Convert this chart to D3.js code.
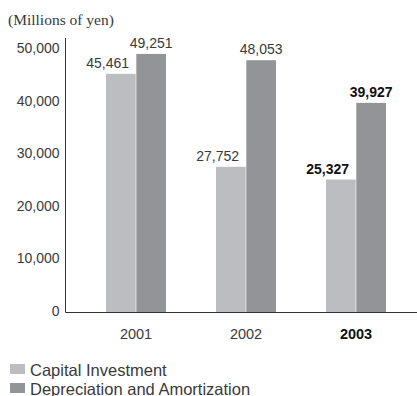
<!DOCTYPE html>
<html>
<head>
<meta charset="utf-8">
<script src="https://cdn.jsdelivr.net/npm/d3@7"></script>
<style>
  html, body { margin: 0; padding: 0; background: #fff; }
  svg { display: block; }
</style>
</head>
<body>
<svg id="chart" width="417" height="396"></svg>
<script>
// Fiscal years and the two series (millions of yen)
const years = ["2001", "2002", "2003"];
const capitalInvestment = [45461, 27752, 25327];
const depreciation = [49251, 48053, 39927];
const seriesNames = ["Capital Investment", "Depreciation and Amortization"];
const yTicks = [0, 10000, 20000, 30000, 40000, 50000];
const highlightYear = "2003";

const colors = ["#bcbdc1", "#939498"];
const textColor = "#3a3a3a";
const sansFont = "'Liberation Sans', Arial, sans-serif";

const svg = d3.select("#chart");

const y = d3.scaleLinear().domain([0, 50000]).range([312.5, 50]);
const x = d3.scaleBand().domain(years).range([81, 411]).paddingInner(50 / 110).paddingOuter(25 / 110);
const sub = d3.scaleBand().domain([0, 1]).range([0, x.bandwidth()]).paddingInner(0.02);

// Unit caption
svg.append("text")
  .attr("x", 8).attr("y", 25)
  .attr("font-family", "'Liberation Serif', 'Times New Roman', serif")
  .attr("font-size", 15.5)
  .attr("fill", textColor)
  .text("(Millions of yen)");

// Bars
const groups = svg.selectAll("g.year")
  .data(years.map((yr, i) => ({ yr, vals: [capitalInvestment[i], depreciation[i]] })))
  .join("g")
  .attr("class", "year")
  .attr("transform", d => `translate(${x(d.yr)},0)`);

groups.selectAll("rect")
  .data(d => d.vals.map((v, k) => ({ v, k })))
  .join("rect")
  .attr("x", d => sub(d.k))
  .attr("width", sub.bandwidth())
  .attr("y", d => y(d.v))
  .attr("height", d => y(0) - y(d.v))
  .attr("fill", d => colors[d.k]);

// Value labels: the shorter bar's label sits to the left so it clears its neighbour
groups.each(function(d) {
  const bold = d.yr === highlightYear;
  d3.select(this).selectAll("text.val")
    .data(d.vals.map((v, k) => ({ v, k })))
    .join("text")
    .attr("class", "val")
    .attr("x", e => e.k === 0 ? sub(e.k) + 23 : sub(e.k) + sub.bandwidth() / 2)
    .attr("y", e => y(e.v) - 6)
    .attr("text-anchor", e => e.k === 0 ? "end" : "middle")
    .attr("font-family", sansFont)
    .attr("font-size", 14)
    .attr("font-weight", bold ? "bold" : "normal")
    .attr("fill", bold ? "#111" : textColor)
    .text(e => d3.format(",")(e.v));
});

// Y axis
const yAxis = svg.append("g")
  .attr("transform", "translate(65.5,0)")
  .call(d3.axisLeft(y).tickValues(yTicks).tickSize(0).tickPadding(6).tickFormat(d3.format(",")));
yAxis.select(".domain").remove();
yAxis.append("line")
  .attr("x1", 0).attr("x2", 0)
  .attr("y1", 38).attr("y2", y(0))
  .attr("stroke", "#333").attr("stroke-width", 1);
yAxis.selectAll("text")
  .attr("dy", "0.2em")
  .attr("font-family", sansFont)
  .attr("font-size", 14)
  .attr("fill", textColor);

// X axis
const xAxis = svg.append("g")
  .attr("transform", `translate(0,${y(0)})`)
  .call(d3.axisBottom(x).tickSize(0).tickPadding(16));
xAxis.select(".domain").remove();
xAxis.append("line")
  .attr("x1", 65.5).attr("x2", 417)
  .attr("y1", 0).attr("y2", 0)
  .attr("stroke", "#333").attr("stroke-width", 1);
xAxis.selectAll("text")
  .attr("font-family", sansFont)
  .attr("font-size", 14.5)
  .attr("font-weight", d => d === highlightYear ? "bold" : "normal")
  .attr("fill", d => d === highlightYear ? "#111" : textColor);

// Legend
const legend = svg.append("g").selectAll("g")
  .data(seriesNames)
  .join("g")
  .attr("transform", (d, i) => `translate(10,${364 + i * 19})`);
legend.append("rect")
  .attr("width", 15).attr("height", 10)
  .attr("fill", (d, i) => colors[i]);
legend.append("text")
  .attr("x", 20).attr("y", 12)
  .attr("font-family", sansFont)
  .attr("font-size", 16.5)
  .attr("fill", textColor)
  .text(d => d);
</script>
</body>
</html>
